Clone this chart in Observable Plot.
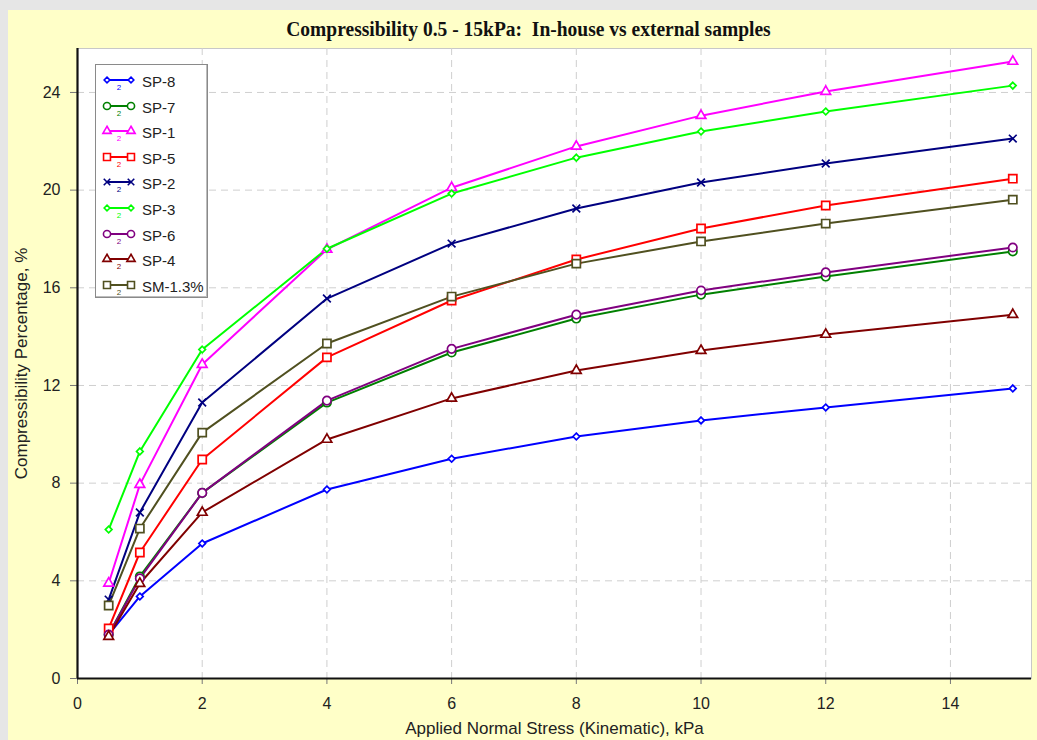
<!DOCTYPE html>
<html>
<head>
<meta charset="utf-8">
<script src="https://cdn.jsdelivr.net/npm/d3@7"></script>
<script src="https://cdn.jsdelivr.net/npm/@observablehq/plot@0.6"></script>
<style>
  html, body { margin: 0; padding: 0; }
  body { width: 1037px; height: 740px; background: #e6e6e6; position: relative; overflow: hidden; font-family: "Liberation Sans", Arial, sans-serif; }
  #wrap { position: absolute; left: 8px; top: 10px; width: 1029px; height: 730px; background: #ffffc8; }
  #title { position: absolute; left: 6px; top: 8px; width: 1029px; text-align: center; font-family: "Liberation Serif", "Times New Roman", serif; font-weight: bold; font-size: 19.5px; color: #111; line-height: 24px; transform: scaleY(1.06); }
  #chart { position: absolute; left: 0; top: 30px; }
  #legend { position: absolute; left: 87px; top: 54px; width: 111px; height: 232px; background: #fff; border: 1px solid #8a8a8a; box-shadow: -1px -1px 0 #bdbdbd inset; }
  .li { position: absolute; left: 0; height: 20px; width: 110px; }
  .li svg { position: absolute; left: 5px; top: 0; }
  .li span { position: absolute; left: 46px; top: 1px; font-size: 15px; color: #222; line-height: 18px; }
</style>
</head>
<body>
<div id="wrap">
  <div id="title">Compressibility 0.5 - 15kPa:&nbsp; In-house vs external samples</div>
  <div id="chart"></div>
  <div id="legend"></div>
</div>
<script>
// ---- data ----
const stress = [0.5, 1, 2, 4, 6, 8, 10, 12, 15];
const seriesNames = ["SP-8", "SP-7", "SP-1", "SP-5", "SP-2", "SP-3", "SP-6", "SP-4", "SM-1.3%"];
const sp8  = [1.8, 3.36, 5.53, 7.74, 9.0, 9.91, 10.57, 11.1, 11.88];
const sp7  = [1.8, 4.18, 7.6, 11.3, 13.35, 14.74, 15.72, 16.46, 17.49];
const sp1  = [3.9, 7.94, 12.86, 17.57, 20.1, 21.79, 23.05, 24.04, 25.27];
const sp5  = [2.05, 5.16, 8.97, 13.15, 15.48, 17.16, 18.43, 19.37, 20.47];
const sp2  = [3.23, 6.8, 11.3, 15.56, 17.81, 19.25, 20.31, 21.09, 22.11];
const sp3  = [6.1, 9.3, 13.47, 17.6, 19.86, 21.33, 22.4, 23.22, 24.28];
const sp6  = [1.8, 4.1, 7.6, 11.38, 13.5, 14.9, 15.89, 16.63, 17.65];
const sp4  = [1.72, 3.89, 6.8, 9.79, 11.47, 12.61, 13.43, 14.09, 14.9];
const sm13 = [2.99, 6.14, 10.07, 13.72, 15.64, 16.99, 17.9, 18.63, 19.61];
const seriesValues = [sp8, sp7, sp1, sp5, sp2, sp3, sp6, sp4, sm13];
const colors  = ["#0000ff", "#008000", "#ff00ff", "#ff0000", "#000080", "#00ff00", "#800080", "#800000", "#505020"];
const symbols = ["diamond2", "circle", "triangle", "square", "times", "diamond2", "circle", "triangle", "square"];
const xTicks = [0, 2, 4, 6, 8, 10, 12, 14];
const yTicks = [0, 4, 8, 12, 16, 20, 24];
const xLabel = "Applied Normal Stress (Kinematic), kPa";
const yLabel = "Compressibility Percentage, %";

// ---- table built from arrays ----
const rows = [];
seriesNames.forEach((name, i) => {
  stress.forEach((x, j) => rows.push({series: name, x, y: seriesValues[i][j]}));
});

const markR = {diamond2: 3.0, circle: 4.2, triangle: 3.6, square: 4.6, times: 3.6};

const marks = [
  Plot.frame({fill: "white", stroke: "#c8c8c8"}),
  Plot.gridX(xTicks.filter(d => d > 0), {stroke: "#cfcfcf", strokeOpacity: 1, strokeDasharray: "7,5"}),
  Plot.gridY(yTicks.filter(d => d > 0), {stroke: "#cfcfcf", strokeOpacity: 1, strokeDasharray: "7,5"}),
  Plot.axisX(xTicks, {tickSize: 6, tickPadding: 13, stroke: "#777", fill: "#222", fontSize: 16, label: null}),
  Plot.axisX([], {fill: "#222", fontSize: 17, label: xLabel, labelAnchor: "center", labelArrow: "none", labelOffset: 55}),
  Plot.axisY(yTicks, {tickSize: 7, tickPadding: 10, stroke: "#777", fill: "#222", fontSize: 16, label: null}),
  Plot.axisY([], {fill: "#222", fontSize: 17, label: yLabel, labelAnchor: "center", labelArrow: "none", labelOffset: 63}),
  Plot.ruleX([0], {stroke: "#111", strokeWidth: 2.2}),
  Plot.ruleY([0], {stroke: "#111", strokeWidth: 2.2}),
  Plot.line(rows, {x: "x", y: "y", z: "series", stroke: "series", strokeWidth: 2})
];
seriesNames.forEach((name, i) => {
  marks.push(Plot.dot(rows.filter(d => d.series === name), {
    x: "x", y: "y", stroke: "series", symbol: "series", fill: "white",
    r: markR[symbols[i]], strokeWidth: 1.7
  }));
});

const chart = Plot.plot({
  width: 1029,
  height: 700,
  marginLeft: 69,
  marginRight: 6,
  marginTop: 8,
  marginBottom: 62,
  style: {background: "transparent", fontFamily: "'Liberation Sans', Arial, sans-serif", fontSize: "16px", color: "#222"},
  x: {domain: [0, 15.3]},
  y: {domain: [0, 25.8]},
  color: {domain: seriesNames, range: colors},
  symbol: {domain: seriesNames, range: symbols},
  marks
});
document.getElementById("chart").appendChild(chart);

// ---- legend ----
const symMap = {diamond2: d3.symbolDiamond2, circle: d3.symbolCircle, triangle: d3.symbolTriangle, square: d3.symbolSquare, times: d3.symbolTimes};
const legend = document.getElementById("legend");
seriesNames.forEach((name, i) => {
  const item = document.createElement("div");
  item.className = "li";
  item.style.top = (7 + i * 25.6) + "px";
  const s = symbols[i];
  const r = markR[s] * 0.85;
  const path = d3.symbol(symMap[s], Math.PI * r * r)();
  const c = colors[i];
  item.innerHTML =
    `<svg width="36" height="20" viewBox="0 0 36 20">
       <line x1="6" y1="8" x2="30" y2="8" stroke="${c}" stroke-width="2"/>
       <path d="${path}" transform="translate(6,8)" fill="white" stroke="${c}" stroke-width="1.6"/>
       <path d="${path}" transform="translate(30,8)" fill="white" stroke="${c}" stroke-width="1.6"/>
       <text x="18" y="18" font-size="8" text-anchor="middle" fill="${c}" font-family="Liberation Sans, Arial">2</text>
     </svg><span>${name}</span>`;
  legend.appendChild(item);
});
</script>
</body>
</html>
